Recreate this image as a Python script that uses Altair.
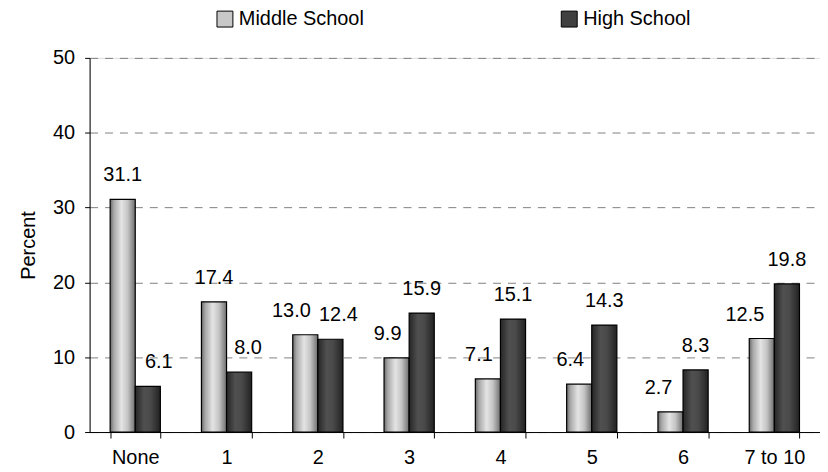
import altair as alt
import pandas as pd

categories = ["None", "1", "2", "3", "4", "5", "6", "7 to 10"]
series = ["Middle School", "High School"]
middle_values = [31.1, 17.4, 13.0, 9.9, 7.1, 6.4, 2.7, 12.5]
high_values = [6.1, 8.0, 12.4, 15.9, 15.1, 14.3, 8.3, 19.8]
y_ticks = [0, 10, 20, 30, 40, 50]

# label nudges in pixels (layout only), as placed in the reference
label_nudge_middle = [0, 0, -14, -9, -9, -9, -12, -17]
label_nudge_high = [11, 9, 8, 0, 0, 0, 0, 0]

rows = []
for i, c in enumerate(categories):
    rows.append({"cat": c, "series": series[0], "value": middle_values[i],
                 "nudge": label_nudge_middle[i]})
    rows.append({"cat": c, "series": series[1], "value": high_values[i],
                 "nudge": label_nudge_high[i]})
df = pd.DataFrame(rows)

FONT = "Liberation Sans"
FS = 20

grad_mid = {
    "gradient": "linear", "x1": 0, "x2": 1, "y1": 0, "y2": 0,
    "stops": [
        {"offset": 0.0, "color": "#6a6a6a"},
        {"offset": 0.15, "color": "#a8a8a8"},
        {"offset": 0.45, "color": "#e4e4e4"},
        {"offset": 0.7, "color": "#c4c4c4"},
        {"offset": 1.0, "color": "#6e6e6e"},
    ],
}
grad_high = {
    "gradient": "linear", "x1": 0, "x2": 1, "y1": 0, "y2": 0,
    "stops": [
        {"offset": 0.0, "color": "#262626"},
        {"offset": 0.35, "color": "#505050"},
        {"offset": 0.6, "color": "#4a4a4a"},
        {"offset": 1.0, "color": "#222222"},
    ],
}

x_enc = alt.X(
    "cat:N",
    sort=categories,
    scale=alt.Scale(domain=categories, paddingInner=0.45, paddingOuter=0.225),
    axis=alt.Axis(
        title=None, labelAngle=0, tickBand="extent", tickSize=6,
        tickColor="black", domainColor="black", labelColor="black",
        labelFont=FONT, labelFontSize=FS, labelPadding=10, grid=False,
    ),
)
xoff = alt.XOffset("series:N", sort=series, scale=alt.Scale(domain=series))
y_enc = alt.Y(
    "value:Q",
    scale=alt.Scale(domain=[0, 50], nice=False, zero=True),
    axis=alt.Axis(
        values=y_ticks, title="Percent", titleFont=FONT, titleFontSize=FS,
        titleFontWeight="normal", titleColor="black", titlePadding=14,
        labelFont=FONT, labelFontSize=FS, labelColor="black", labelPadding=10,
        tickSize=5, tickColor="black", domainColor="black",
        grid=True, gridDash=[8, 7], gridColor="#808080", gridWidth=1,
    ),
)

bars = alt.Chart(df).mark_bar(stroke="black", strokeWidth=1.2).encode(
    x=x_enc,
    xOffset=xoff,
    y=y_enc,
    fill=alt.Fill(
        "series:N",
        sort=series,
        scale=alt.Scale(domain=series, range=["#c8c8c8", "#404040"]),
        legend=alt.Legend(
            title=None, orient="none", direction="horizontal", columns=2,
            legendX=126, legendY=-49, symbolType="square", symbolSize=256,
            symbolStrokeColor="black", symbolStrokeWidth=1,
            labelFont=FONT, labelFontSize=FS, labelColor="black",
            columnPadding=196, symbolOffset=0, labelOffset=4,
        ),
        condition=[
            {"test": "datum.series === 'Middle School'", "value": grad_mid},
            {"test": "datum.series === 'High School'", "value": grad_high},
        ],
    ),
)

layers = [bars]
for nudge in sorted(set(label_nudge_middle + label_nudge_high)):
    layers.append(
        alt.Chart(df).transform_filter(f"datum.nudge === {nudge}").mark_text(
            font=FONT, fontSize=FS, color="black", baseline="alphabetic",
            dy=-18, dx=nudge,
        ).encode(
            x=alt.X("cat:N", sort=categories),
            xOffset=xoff,
            y=alt.Y("value:Q"),
            text=alt.Text("value:Q", format=".1f"),
        )
    )

chart = alt.layer(*layers).properties(
    width=734, height=376,
    autosize=alt.AutoSizeParams(type="none"),
    padding={"left": 82, "top": 49, "right": 0, "bottom": 36},
).configure_view(stroke=None).configure(background="white")

chart.save("out.html", embed_options={"renderer": "svg", "actions": False})
